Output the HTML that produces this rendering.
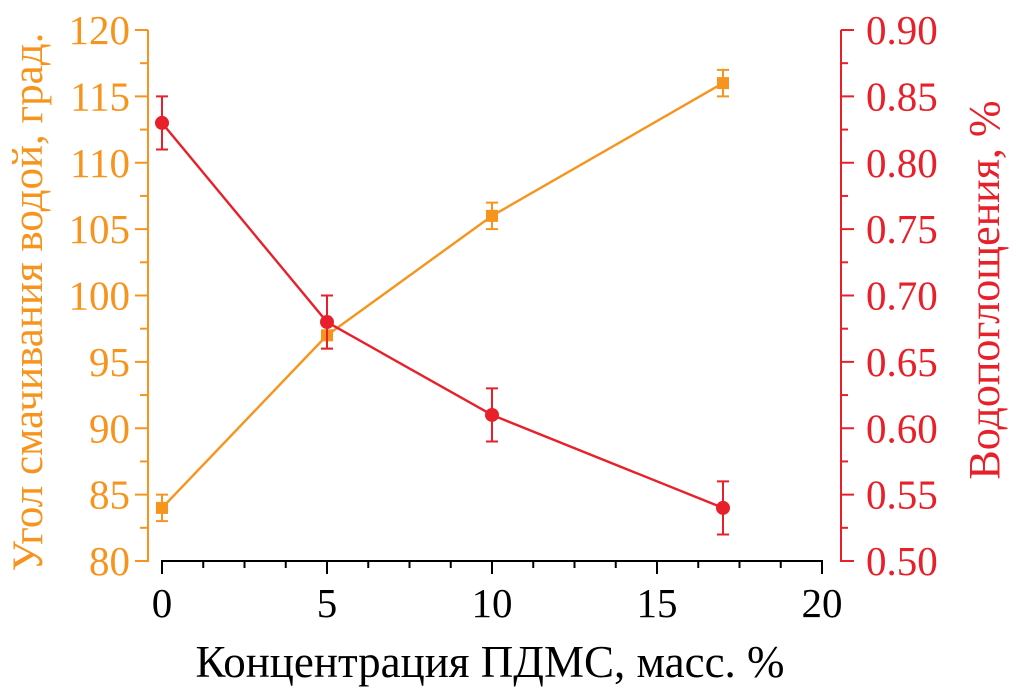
<!DOCTYPE html>
<html><head><meta charset="utf-8"><style>
body{margin:0;background:#fff}
svg{font-family:"Liberation Serif","DejaVu Serif",serif}
</style></head><body>
<svg id="c" width="1017" height="687" viewBox="0 0 1017 687"></svg>
<script>
const xVals=[0,5,10,17];
const angleVals=[84,97,106,116];
const angleErr=[1,1,1,1];
const absorbVals=[0.83,0.68,0.61,0.54];
const absorbErr=[0.02,0.02,0.02,0.02];
const xTicks=[0,5,10,15,20];
const leftTicks=[80,85,90,95,100,105,110,115,120];
const rightTicks=["0.50","0.55","0.60","0.65","0.70","0.75","0.80","0.85","0.90"];

const OR="#f7941d",RD="#e8202a";
const svg=document.getElementById('c');
const NS="http://www.w3.org/2000/svg";
function el(t,a,p){const e=document.createElementNS(NS,t);for(const k in a)e.setAttribute(k,a[k]);(p||svg).appendChild(e);return e;}
const X=v=>162+v*33;
const YL=v=>561-(v-80)*531/40;
const YR=v=>561-(v-0.5)*531/0.4;

// x axis
const xa=el('g',{});


el('line',{x1:161,y1:561,x2:823,y2:561,stroke:'#000','stroke-width':2},xa);
for(let v=0;v<=20;v+=1.25){const maj=v%5===0;el('line',{x1:X(v),y1:561,x2:X(v),y2:maj?574:568,stroke:'#000','stroke-width':2},xa);}
xTicks.forEach(v=>{const t=el('text',{x:X(v),y:617,'text-anchor':'middle','font-size':41,fill:'#000'},xa);t.textContent=v;
});
const xt=el('text',{x:490,y:677,'text-anchor':'middle','font-size':45,fill:'#000'});
xt.textContent='Концентрация ПДМС, масс. %';



// left axis
const la=el('g',{});


el('line',{x1:148,y1:30,x2:148,y2:562,stroke:OR,'stroke-width':2},la);
for(let v=80;v<=120;v+=2.5){const maj=v%5===0;el('line',{x1:148,y1:YL(v),x2:maj?135:140,y2:YL(v),stroke:OR,'stroke-width':2},la);}
leftTicks.forEach(v=>{const t=el('text',{x:130,y:YL(v)+14,'text-anchor':'end','font-size':41,fill:OR},la);t.textContent=v;
});
const lt=el('text',{x:0,y:0,'text-anchor':'middle','font-size':43,fill:OR,transform:'translate(42,302) rotate(-90)'});
lt.textContent='Угол смачивания водой,  град.';



// right axis
const ra=el('g',{});


el('line',{x1:841,y1:30,x2:841,y2:562,stroke:RD,'stroke-width':2},ra);
for(let i=0;i<=16;i++){const v=0.5+i*0.025;el('line',{x1:841,y1:YR(v),x2:i%2===0?854:848,y2:YR(v),stroke:RD,'stroke-width':2},ra);}
rightTicks.forEach(s=>{const t=el('text',{x:866,y:YR(parseFloat(s))+14,'font-size':41,fill:RD},ra);t.textContent=s;
});
const rt=el('text',{x:0,y:0,'text-anchor':'middle','font-size':44,fill:RD,transform:'translate(999,290) rotate(-90)'});
rt.textContent='Водопоглощения, %';



// orange series
const os=el('g',{});


el('polyline',{points:xVals.map((x,i)=>X(x)+','+YL(angleVals[i])).join(' '),fill:'none',stroke:OR,'stroke-width':2.4},os);
xVals.forEach((x,i)=>{const cx=X(x),y1=YL(angleVals[i]+angleErr[i]),y2=YL(angleVals[i]-angleErr[i]);
el('path',{d:`M${cx},${y1}V${y2}M${cx-6},${y1}H${cx+6}M${cx-6},${y2}H${cx+6}`,stroke:OR,'stroke-width':2,fill:'none'},os);
const r=el('rect',{x:cx-6,y:YL(angleVals[i])-6,width:12,height:12,fill:OR},os);
});

// red series
const rs=el('g',{});


el('polyline',{points:xVals.map((x,i)=>X(x)+','+YR(absorbVals[i])).join(' '),fill:'none',stroke:RD,'stroke-width':2.4},rs);
xVals.forEach((x,i)=>{const cx=X(x),y1=YR(absorbVals[i]+absorbErr[i]),y2=YR(absorbVals[i]-absorbErr[i]);
el('path',{d:`M${cx},${y1}V${y2}M${cx-6},${y1}H${cx+6}M${cx-6},${y2}H${cx+6}`,stroke:RD,'stroke-width':2,fill:'none'},rs);
const c=el('circle',{cx:cx,cy:YR(absorbVals[i]),r:7,fill:RD},rs);
});
</script>
</body></html>
